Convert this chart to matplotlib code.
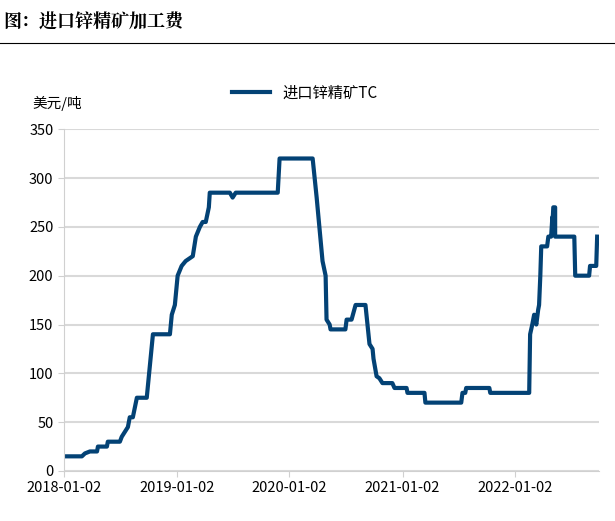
import numpy as np
import matplotlib.pyplot as plt
import matplotlib.dates as mdates

plt.rcParams['font.family'] = ['Noto Sans CJK SC', 'DejaVu Sans']

# days since 2018-01-02 and TC values (USD/t)
days = [0, 58, 68, 84, 107, 110, 139, 142, 181, 187, 197, 207, 213, 223, 236, 268, 288,
        343, 349, 359, 368, 381, 394, 417, 427, 440, 449, 459, 469, 472, 537, 546, 556,
        692, 698, 805, 818, 837, 847, 850, 860, 863, 911, 915, 931, 944, 976, 989, 999,
        1002, 1012, 1021, 1031, 1063, 1070, 1109, 1112, 1167, 1170, 1286, 1290, 1299,
        1302, 1377, 1380, 1506, 1509, 1516, 1522, 1529, 1535, 1538, 1542, 1545, 1564,
        1568, 1577, 1581, 1581, 1584, 1590, 1590, 1652, 1655, 1700, 1703, 1723, 1726]
tc = [15, 15, 18, 20, 20, 25, 25, 30, 30, 35, 40, 45, 55, 55, 75, 75, 140,
      140, 160, 170, 200, 210, 215, 220, 240, 250, 255, 255, 270, 285, 285, 280, 285,
      285, 320, 320, 280, 215, 200, 155, 150, 145, 145, 155, 155, 170, 170, 130, 125,
      115, 97, 95, 90, 90, 85, 85, 80, 80, 70, 70, 80, 80,
      85, 85, 80, 80, 140, 150, 160, 150, 165, 170, 200, 230, 230,
      240, 240, 260, 250, 270, 270, 240, 240, 200, 200, 210, 210, 240]
year_ticks = ['2018-01-02', '2019-01-02', '2020-01-02', '2021-01-02', '2022-01-02']

start = np.datetime64('2018-01-02')
x = start + np.array(days).astype('timedelta64[D]')

fig = plt.figure(figsize=(6.15, 5.21), dpi=100)
fig.text(0.005, 0.975, '图：进口锌精矿加工费', fontsize=13, fontweight='bold', va='top',
         family=['Noto Serif CJK SC', 'Noto Sans CJK SC', 'DejaVu Sans'])
fig.add_artist(plt.Line2D([0, 1], [0.918, 0.918], color='black', lw=0.8))

ax = fig.add_axes([0.104, 0.096, 0.87, 0.656])
ax.plot(x, tc, color='#034275', lw=3, label='进口锌精矿TC')
ax.set_ylim(0, 350)
ax.set_yticks(range(0, 351, 50))
ax.set_xlim(start, start + np.timedelta64(1732, 'D'))
ax.set_xticks([np.datetime64(t) for t in year_ticks])
ax.set_xticklabels(year_ticks)
ax.tick_params(labelsize=10.5, length=4, color='#d0d0d0')
ax.grid(axis='y', color='#d9d9d9', lw=1.5)
for s in ['top', 'right']:
    ax.spines[s].set_visible(False)
for s in ['left', 'bottom']:
    ax.spines[s].set_color('#d0d0d0')
ax.text(-0.013, 1.076, '美元/吨', transform=ax.transAxes, fontsize=10.5, ha='center', va='center')
ax.legend(loc='lower center', bbox_to_anchor=(0.45, 1.04), frameon=False, fontsize=11,
          handlelength=2.5)
fig.savefig('out.png')
